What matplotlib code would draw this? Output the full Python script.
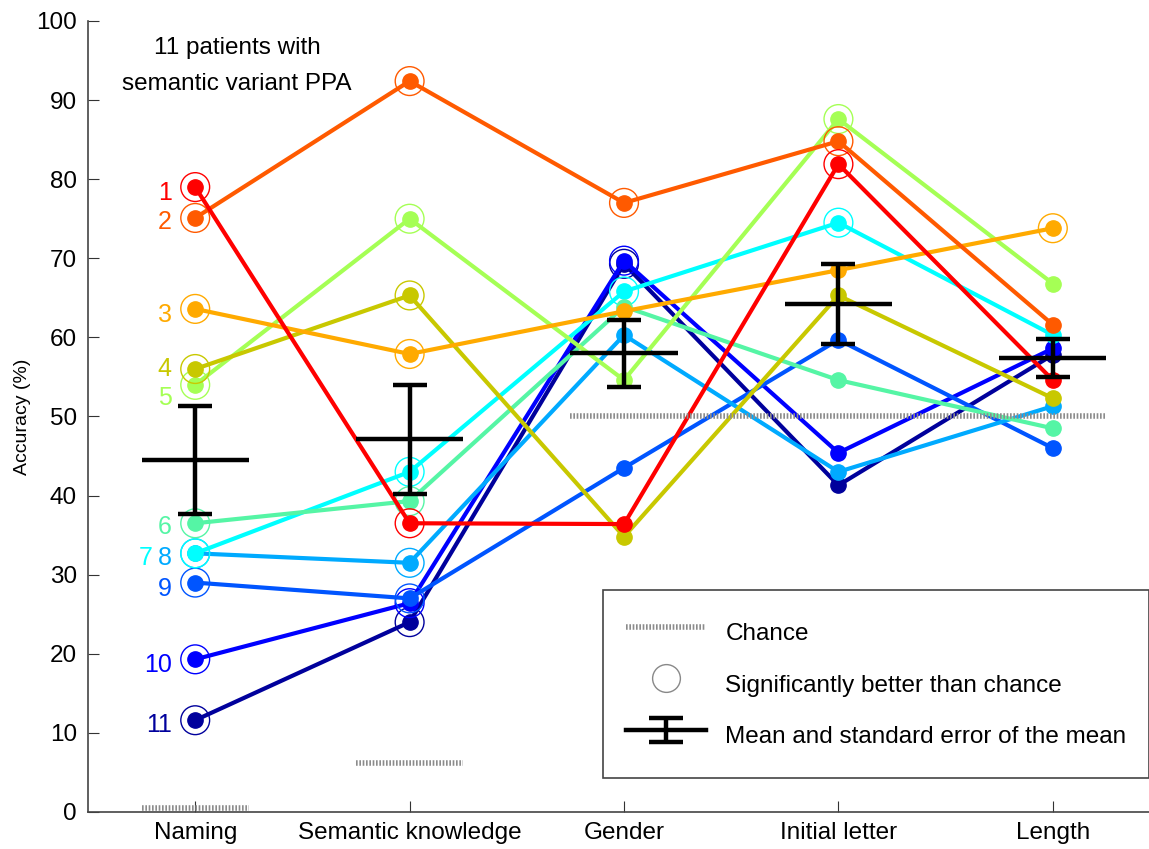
import numpy as np
import matplotlib
matplotlib.use('Agg')
import matplotlib.pyplot as plt
from matplotlib.lines import Line2D

plt.rcParams['font.family'] = ['Liberation Sans', 'DejaVu Sans']

# Tareas y datos de cada paciente
tasks = ['Naming', 'Semantic knowledge', 'Gender', 'Initial letter', 'Length']
patient_ids = ['1', '2', '3', '4', '5', '6', '7', '8', '9', '10', '11']
colors = ['#ff0000', '#ff5a00', '#ffaa00', '#c8c800', '#a5ff55', '#55f5a5',
          '#00ffff', '#00aaff', '#0055ff', '#0000ff', '#00009c']

p1 = [79.0, 36.5, 36.4, 81.9, 54.6]
p2 = [75.1, 92.4, 77.0, 84.8, 61.6]
p3 = [63.6, 57.9, 63.3, 68.5, 73.8]
p4 = [56.0, 65.3, 34.8, 65.3, 52.3]
p5 = [54.0, 75.0, 54.6, 87.6, 66.8]
p6 = [36.5, 39.3, 63.9, 54.6, 48.5]
p7 = [32.7, 43.0, 65.8, 74.5, 60.3]
p8 = [32.7, 31.5, 60.3, 43.0, 51.3]
p9 = [29.0, 27.0, 43.5, 59.7, 46.0]
p10 = [19.3, 26.4, 69.7, 45.4, 58.6]
p11 = [11.6, 24.0, 69.3, 41.3, 57.8]
patients = [p1, p2, p3, p4, p5, p6, p7, p8, p9, p10, p11]

# significativamente mejor que el azar (1 = si)
s1 = [1, 1, 0, 1, 0]
s2 = [1, 1, 1, 1, 0]
s3 = [1, 1, 0, 0, 1]
s4 = [1, 1, 0, 0, 0]
s5 = [1, 1, 0, 1, 0]
s6 = [1, 1, 0, 0, 0]
s7 = [1, 1, 1, 1, 0]
s8 = [1, 1, 0, 0, 0]
s9 = [1, 1, 0, 0, 0]
s10 = [1, 1, 1, 0, 0]
s11 = [1, 1, 1, 0, 0]
signif = [s1, s2, s3, s4, s5, s6, s7, s8, s9, s10, s11]

mean_acc = [44.5, 47.1, 58.0, 64.2, 57.4]
sem_acc = [6.8, 6.85, 4.25, 5.1, 2.4]
chance = [0.5, 6.25, 50, 50, 50]

# posicion vertical de las etiquetas de pacientes
label_y = [78.3, 74.6, 62.8, 56.0, 52.3, 36.0, 32.1, 32.1, 28.2, 18.6, 11.0]

x = np.arange(1, len(tasks) + 1)

fig = plt.figure(figsize=(11.49, 8.49), dpi=100)
ax = fig.add_axes([0.0766, 0.0436, 0.933, 0.9317])

for i in range(len(patients) - 1, -1, -1):
    y = np.array(patients[i])
    ax.plot(x, y, '-o', color=colors[i], lw=3, ms=11, zorder=3)
    sig = np.array(signif[i]) == 1
    ax.scatter(x[sig], y[sig], s=430, facecolors='none', edgecolors=colors[i],
               linewidths=1.0, zorder=3)

# lineas de azar (se unen los niveles iguales consecutivos)
start = 0
for i in range(1, len(chance) + 1):
    if i == len(chance) or chance[i] != chance[start]:
        ax.plot([x[start] - 0.25, x[i - 1] + 0.25], [chance[start]] * 2,
                color='#8c8c8c', lw=4, ls=(0, (0.3, 0.3)), solid_capstyle='butt', zorder=4)
        start = i

# media y error estandar
ax.hlines(mean_acc, x - 0.25, x + 0.25, color='k', lw=3.2, zorder=5)
eb = ax.errorbar(x, mean_acc, yerr=sem_acc, fmt='none', ecolor='k', elinewidth=3.2,
                 capsize=12, capthick=3.2, zorder=5)

# etiquetas de pacientes
for i, pid in enumerate(patient_ids):
    lx = 0.89
    if pid == '7':
        lx = 0.80
    ax.text(lx, label_y[i], pid, color=colors[i], fontsize=18, ha='right', va='center')

ax.text(1.195, 94.3, '11 patients with\nsemantic variant PPA', fontsize=17.5,
        ha='center', va='center', linespacing=1.78)

ax.set_xlim(0.5, 5.5)
ax.set_ylim(0, 100)
ax.set_xticks(x)
ax.set_xticklabels(tasks, fontsize=17.5)
ax.set_yticks(np.arange(0, 101, 10))
ax.tick_params(axis='y', labelsize=17.5, direction='in', length=8, pad=8, color='#333333')
ax.tick_params(axis='x', direction='in', length=8, pad=7, color='#333333')
ax.set_ylabel('Accuracy (%)', fontsize=14)
ax.yaxis.set_label_coords(-0.053, 0.5)
for side in ['top', 'right']:
    ax.spines[side].set_visible(False)
for side in ['left', 'bottom']:
    ax.spines[side].set_color('#444444')
    ax.spines[side].set_linewidth(1.2)

h_chance = Line2D([], [], color='#8c8c8c', lw=4, ls=(0, (0.3, 0.3)))
h_circle = Line2D([], [], ls='none', marker='o', ms=20, mfc='none', mec='#888888', mew=1)
h_mean = (Line2D([], [], color='k', lw=3.2), eb)
leg = ax.legend([h_chance, h_circle, h_mean],
                ['Chance', 'Significantly better than chance', 'Mean and standard error of the mean'],
                loc='upper left', bbox_to_anchor=(603 / 1149, 1 - 590 / 849),
                bbox_transform=fig.transFigure, fontsize=17.5, frameon=True, fancybox=False,
                handlelength=3.3, handleheight=2.05, handletextpad=0.78, labelspacing=0.55,
                borderpad=0.95, borderaxespad=0)
leg.get_frame().set_edgecolor('#444444')
leg.get_frame().set_linewidth(1.2)
leg.get_frame().set_alpha(1)
leg.set_zorder(10)

fig.savefig('out.png', dpi=100)
